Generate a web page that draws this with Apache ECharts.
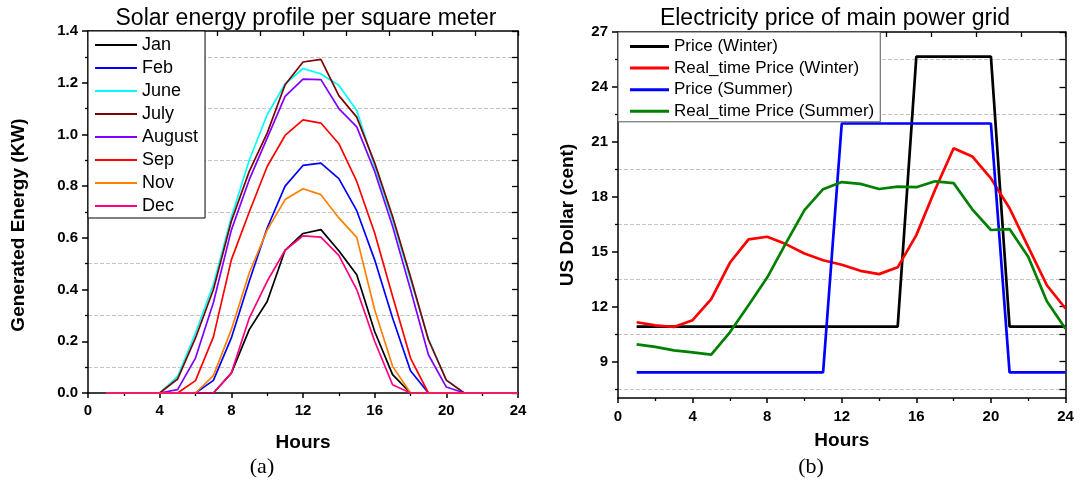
<!DOCTYPE html>
<html>
<head>
<meta charset="utf-8">
<script src="https://cdn.jsdelivr.net/npm/echarts@6/dist/echarts.min.js"></script>
<style>
html,body{margin:0;padding:0;background:#fff;}
#chart{width:1081px;height:484px;}
</style>
</head>
<body>
<div id="chart"></div>
<script>
// ---------- data ----------
const hours = [1,2,3,4,5,6,7,8,9,10,11,12,13,14,15,16,17,18,19,20,21,22,23,24];

// Solar energy profile (KW)
const solarNames = ['Jan','Feb','June','July','August','Sep','Nov','Dec'];
const jan    = [0,0,0,0,0,0,0,0.077,0.245,0.354,0.552,0.617,0.632,0.55,0.457,0.238,0.071,0,0,0,0,0,0,0];
const feb    = [0,0,0,0,0,0,0.049,0.213,0.432,0.638,0.80,0.88,0.889,0.829,0.705,0.515,0.29,0.086,0,0,0,0,0,0];
const june   = [0,0,0,0,0.064,0.232,0.42,0.68,0.90,1.076,1.195,1.255,1.234,1.19,1.093,0.876,0.67,0.438,0.209,0.05,0,0,0,0];
const july   = [0,0,0,0,0.054,0.213,0.40,0.664,0.857,1.005,1.192,1.28,1.29,1.15,1.067,0.89,0.683,0.45,0.206,0.05,0,0,0,0];
const august = [0,0,0,0,0.013,0.135,0.35,0.63,0.825,0.986,1.147,1.214,1.212,1.10,1.029,0.857,0.645,0.40,0.148,0.023,0,0,0,0];
const sep    = [0,0,0,0,0,0.048,0.217,0.515,0.70,0.876,0.996,1.056,1.044,0.964,0.818,0.619,0.374,0.135,0,0,0,0,0,0];
const nov    = [0,0,0,0,0,0,0.067,0.245,0.464,0.63,0.748,0.79,0.767,0.677,0.602,0.322,0.103,0,0,0,0,0,0,0];
const dec    = [0,0,0,0,0,0,0,0.077,0.29,0.432,0.552,0.608,0.603,0.532,0.40,0.20,0.032,0,0,0,0,0,0,0];
const solarColors = ['#000000','#0000ff','#00ffff','#800000','#8000ff','#ff0000','#ff8000','#ff0080'];

// Electricity price (US cent)
const priceNames = ['Price (Winter)','Real_time Price (Winter)','Price (Summer)','Real_time Price (Summer)'];
const priceWinter    = [10.9,10.9,10.9,10.9,10.9,10.9,10.9,10.9,10.9,10.9,10.9,10.9,10.9,10.9,10.9,25.65,25.65,25.65,25.65,25.65,10.9,10.9,10.9,10.9];
const realtimeWinter = [11.14,10.97,10.88,11.25,12.40,14.39,15.67,15.81,15.41,14.90,14.53,14.28,13.95,13.77,14.14,15.90,18.37,20.65,20.2,19.0,17.37,15.26,13.16,11.89];
const priceSummer    = [8.4,8.4,8.4,8.4,8.4,8.4,8.4,8.4,8.4,8.4,8.4,22.0,22.0,22.0,22.0,22.0,22.0,22.0,22.0,22.0,8.4,8.4,8.4,8.4];
const realtimeSummer = [9.93,9.79,9.60,9.49,9.37,10.59,12.07,13.58,15.45,17.27,18.41,18.80,18.70,18.42,18.55,18.52,18.84,18.74,17.31,16.18,16.23,14.72,12.29,10.79];
const priceColors = ['#000000','#ff0000','#0000ff','#008000'];

// tick labels
const priceTickLabels = [9,12,15,18,21,24,27];
const priceMinorTicks = [7.5,10.5,13.5,16.5,19.5,22.5,25.5];
const priceRightTicks = [7.5,9,10.5,12,13.5,15,16.5,18,19.5,21,22.5,24,25.5,27];

// ---------- chart ----------
const font = '"Liberation Sans", Arial, Helvetica, sans-serif';
const black = '#000';
const pairs = arr => hours.map((h,i)=>[h, arr[i]]);

function bottomX(gridIndex, margin, nameGap){
  return {
    type:'value', gridIndex, position:'bottom', min:0, max:24, interval:4,
    axisLine:{show:true, onZero:false, lineStyle:{color:black, width:1.5}},
    axisTick:{show:true, inside:false, length:5, lineStyle:{color:black, width:1.5}},
    minorTick:{show:true, splitNumber:2, length:3, lineStyle:{color:black, width:1.3}},
    axisLabel:{color:black, fontWeight:'bold', fontSize:15, fontFamily:font, margin},
    splitLine:{show:false},
    name:'Hours', nameLocation:'middle', nameGap,
    nameTextStyle:{color:black, fontWeight:'bold', fontSize:19, fontFamily:font}
  };
}
function topX(gridIndex){
  return {
    type:'value', gridIndex, position:'top', min:0, max:24, interval:2.4,
    axisLine:{show:true, onZero:false, lineStyle:{color:black, width:1.5}},
    axisTick:{show:true, inside:true, length:5, lineStyle:{color:black, width:1.3}},
    axisLabel:{show:false}, splitLine:{show:false}
  };
}

const series = [];
const solarData = [jan,feb,june,july,august,sep,nov,dec];
solarNames.forEach((n,i)=>{
  series.push({
    name:n, type:'line', xAxisIndex:0, yAxisIndex:0, data:pairs(solarData[i]),
    symbol:'none', lineStyle:{color:solarColors[i], width:1.7}, itemStyle:{color:solarColors[i]},
    animation:false
  });
});
const priceData = [priceWinter, realtimeWinter, priceSummer, realtimeSummer];
priceNames.forEach((n,i)=>{
  series.push({
    name:n, type:'line', xAxisIndex:2, yAxisIndex:2, data:pairs(priceData[i]),
    symbol:'none', lineStyle:{color:priceColors[i], width:2.7}, itemStyle:{color:priceColors[i]},
    animation:false
  });
});

const option = {
  backgroundColor:'#fff',
  animation:false,
  title:[
    {text:'Solar energy profile per square meter', left:306, top:7, textAlign:'center', padding:0,
     textStyle:{fontSize:23, fontWeight:'normal', fontFamily:font, color:black}},
    {text:'Electricity price of main power grid', left:835, top:7, textAlign:'center', padding:0,
     textStyle:{fontSize:23, fontWeight:'normal', fontFamily:font, color:black}},
    {text:'(a)', left:262, top:456, textAlign:'center', padding:0,
     textStyle:{fontSize:22, fontWeight:'normal', fontFamily:'"Liberation Serif", "Times New Roman", serif', color:black}},
    {text:'(b)', left:811, top:456, textAlign:'center', padding:0,
     textStyle:{fontSize:22, fontWeight:'normal', fontFamily:'"Liberation Serif", "Times New Roman", serif', color:black}}
  ],
  legend:[
    {data:solarNames, orient:'vertical', left:88, top:31, padding:[5,7,3,7], itemGap:5,
     icon:'rect', itemWidth:42, itemHeight:2, borderColor:black, borderWidth:1, backgroundColor:'#fff',
     selectedMode:false, textStyle:{fontSize:18, fontFamily:font, color:black}},
    {data:priceNames, orient:'vertical', left:618, top:32, padding:[6,6,2,12], itemGap:4.6,
     icon:'rect', itemWidth:39, itemHeight:3, borderColor:'#555', borderWidth:1, backgroundColor:'#fff',
     selectedMode:false, textStyle:{fontSize:17, fontFamily:font, color:black}}
  ],
  grid:[
    {left:88, top:31, width:430, height:362},
    {left:618, top:32, width:447.5, height:366}
  ],
  xAxis:[
    bottomX(0, 10, 40), topX(0),
    bottomX(1, 11, 33), topX(1)
  ],
  yAxis:[
    {type:'value', gridIndex:0, position:'left', min:0, max:1.4, interval:0.2,
     axisLine:{show:true, onZero:false, lineStyle:{color:black, width:1.5}},
     axisTick:{show:true, inside:false, length:6, lineStyle:{color:black, width:1.5}},
     minorTick:{show:true, splitNumber:2, length:3, lineStyle:{color:black, width:1.3}},
     minorSplitLine:{show:true, lineStyle:{color:'#c4c4c4', type:'dashed', width:1}},
     splitLine:{show:false},
     axisLabel:{color:black, fontWeight:'bold', fontSize:15, fontFamily:font, margin:10, formatter:v=>v.toFixed(1)},
     name:'Generated Energy (KW)', nameLocation:'middle', nameGap:60,
     nameTextStyle:{color:black, fontWeight:'bold', fontSize:19, fontFamily:font, padding:[0,0,0,-26]}},
    {type:'value', gridIndex:0, position:'right', min:0, max:1.4, interval:0.1,
     axisLine:{show:true, onZero:false, lineStyle:{color:black, width:1.5}},
     axisTick:{show:true, inside:true, length:6, lineStyle:{color:black, width:1.3}},
     axisLabel:{show:false}, splitLine:{show:false}},
    {type:'value', gridIndex:1, position:'left', min:7, max:27,
     axisLine:{show:true, onZero:false, lineStyle:{color:black, width:1.5}},
     axisTick:{show:true, inside:false, length:6, customValues:priceTickLabels, lineStyle:{color:black, width:1.5}},
     axisLabel:{color:black, fontWeight:'bold', fontSize:15, fontFamily:font, margin:10, customValues:priceTickLabels},
     splitLine:{show:false},
     name:'US Dollar (cent)', nameLocation:'middle', nameGap:41,
     nameTextStyle:{color:black, fontWeight:'bold', fontSize:19, fontFamily:font}},
    {type:'value', gridIndex:1, position:'left', min:7, max:27,
     axisLine:{show:false},
     axisTick:{show:true, inside:false, length:3, customValues:priceMinorTicks, lineStyle:{color:black, width:1.3}},
     axisLabel:{show:false},
     splitLine:{show:true, lineStyle:{color:'#c4c4c4', type:'dashed', width:1}}},
    {type:'value', gridIndex:1, position:'right', min:7, max:27,
     axisLine:{show:true, onZero:false, lineStyle:{color:black, width:1.5}},
     axisTick:{show:true, inside:true, length:6, customValues:priceRightTicks, lineStyle:{color:black, width:1.3}},
     axisLabel:{show:false}, splitLine:{show:false}}
  ],
  series
};

const chart = echarts.init(document.getElementById('chart'), null, {renderer:'canvas'});
chart.setOption(option);
</script>
</body>
</html>
